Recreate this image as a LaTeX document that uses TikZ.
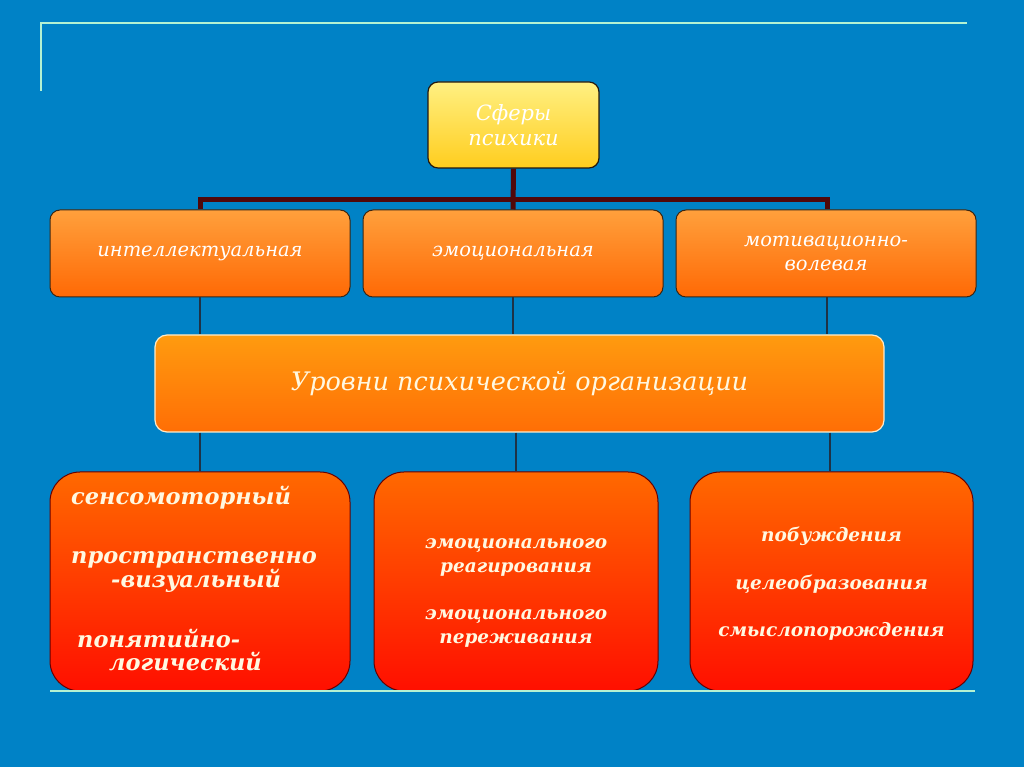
\documentclass[tikz,border=0pt]{standalone}
\usepackage{fontspec}
\setmainfont{DejaVu Serif}
\newfontfamily\boldser{DejaVu Serif}
\begin{document}
\begin{tikzpicture}[x=1pt,y=1pt,
  topbox/.style={draw=black!80!brown, line width=1.2pt, rounded corners=10pt, top color=yellowtop, bottom color=yellowbot, minimum width=171pt, minimum height=86pt, inner sep=0pt, align=center, text=white, font=\itshape\fontsize{21}{25}\selectfont},
  midbox/.style={draw=black!70!brown, line width=1pt, rounded corners=10pt, top color=orangetop, bottom color=orangebot, minimum width=300pt, minimum height=87pt, inner sep=0pt, align=center, text=white, font=\itshape\fontsize{19.5}{24}\selectfont},
  lvlbox/.style={draw=creamline, line width=1.2pt, rounded corners=12pt, top color=lvltop, bottom color=lvlbot, minimum width=729pt, minimum height=97pt, inner sep=0pt, align=center, text=creamtext, font=\itshape\fontsize{25.5}{30}\selectfont},
  lowbox/.style={draw=black!60!red, line width=1pt, rounded corners=30pt, top color=lowtop, bottom color=lowbot, minimum height=219pt, inner sep=0pt, text=creamtext},
  thick conn/.style={draw=conndark, line width=5pt},
  thin conn/.style={draw=thinline, line width=1.6pt},
  deco/.style={draw=decoline, line width=2.6pt}
]
\definecolor{bg}{RGB}{0,130,198}
\definecolor{yellowtop}{RGB}{255,240,130}
\definecolor{yellowbot}{RGB}{255,205,30}
\definecolor{orangetop}{RGB}{255,160,60}
\definecolor{orangebot}{RGB}{255,105,5}
\definecolor{lvltop}{RGB}{255,155,15}
\definecolor{lvlbot}{RGB}{255,110,5}
\definecolor{lowtop}{RGB}{255,105,0}
\definecolor{lowbot}{RGB}{255,15,0}
\definecolor{creamline}{RGB}{255,235,200}
\definecolor{creamtext}{RGB}{255,248,225}
\definecolor{conndark}{RGB}{80,8,10}
\definecolor{thinline}{RGB}{30,50,70}
\definecolor{decoline}{RGB}{180,242,210}
\useasboundingbox (0,0) rectangle (1024,767);
\fill[bg] (0,0) rectangle (1024,767);
% decorative frame lines
\coordinate (d1) at (41,676);
\coordinate (d2) at (41,744);
\coordinate (d3) at (967,744);
\coordinate (d4) at (50,76);
\coordinate (d5) at (975,76);
\draw[deco] (d1) -- (d2) -- (d3);
% nodes
\node[topbox] (top) at (513.5,642) {Сферы\\психики};
\node[midbox] (m1) at (200,513.5) {интеллектуальная};
\node[midbox] (m2) at (513,513.5) {эмоциональная};
\node[midbox] (m3) at (826,513.5) {мотивационно-\\волевая};
\node[lvlbox] (lvl) at (519.5,383.5) {Уровни психической организации};
\node[lowbox, minimum width=300pt] (b1) at (200,185.5) {};
\node[lowbox, minimum width=284pt] (b2) at (516,185.5) {};
\node[lowbox, minimum width=283pt] (b3) at (831.5,185.5) {};
% texts of the lower boxes
\node[anchor=north west, inner sep=0pt, text=creamtext, align=left, font=\boldser\bfseries\itshape\fontsize{22.5}{23}\selectfont] (t1) at (71,281)
 {сенсомоторный\\[36pt]пространственно\\\hspace*{40pt}-визуальный\\[35pt]\hspace*{6pt}понятийно-\\\hspace*{38pt}логический};
\node[inner sep=0pt, text=creamtext, align=center, font=\boldser\bfseries\itshape\fontsize{18.5}{23.5}\selectfont] (t2) at (516,174)
 {эмоционального\\реагирования\\[24pt]эмоционального\\переживания};
\node[inner sep=0pt, text=creamtext, align=center, font=\boldser\bfseries\itshape\fontsize{18.5}{23.5}\selectfont] (t3) at (831.5,183)
 {побуждения\\[24pt]целеобразования\\[24pt]смыслопорождения};
% connectors
\draw[thick conn] (top.south) -- (m2.north);
\draw[thick conn] (200,567) -- (827,567);
\draw[thick conn] (m1.north) -- (m1.north |- 0,569.5);
\draw[thick conn] (m3.north -| 827,0) -- (827,569.5);
\draw[thin conn] (m1.south) -- (m1.south |- lvl.north);
\draw[thin conn] (m2.south) -- (m2.south |- lvl.north);
\draw[thin conn] (m3.south -| 827,0) -- (827,0 |- lvl.north);
\draw[thin conn] (lvl.south -| b1.north) -- (b1.north);
\draw[thin conn] (lvl.south -| b2.north) -- (b2.north);
\draw[thin conn] (lvl.south -| 830,0) -- (830,0 |- b3.north);
\draw[deco] (d4) -- (d5);
\end{tikzpicture}
\end{document}
